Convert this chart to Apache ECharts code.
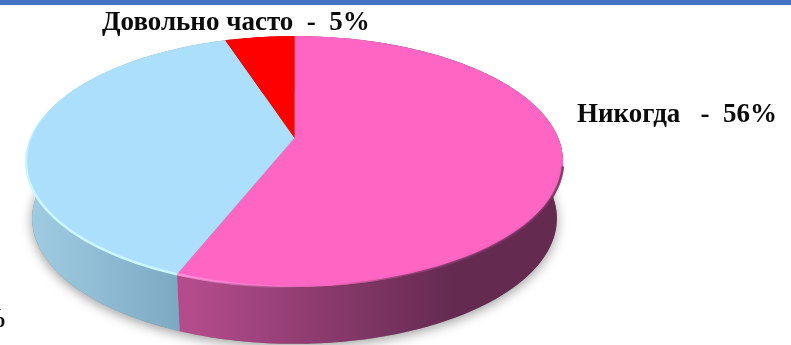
<!DOCTYPE html>
<html>
<head>
<meta charset="utf-8">
<style>html,body{margin:0;padding:0;background:#fff}#chart{width:791px;height:345px}</style>
<script src="https://cdn.jsdelivr.net/npm/echarts@6/dist/echarts.min.js"></script>
</head>
<body>
<div id="chart"></div>
<script>
// Answer shares, clockwise from twelve o'clock
const categories = ['Никогда', 'Иногда', 'Довольно часто'];
const shares = [56, 39, 5];
const labelSeparators = ['   -  ', '  -  ', '  -  '];

const topColors = ['#FF66C4', '#ABDFFC', '#FF0000'];
const wallColors = [
  ['#B44C8C', '#642A50', 188, 455],
  ['#A0CCE3', '#7AA6C0', 30, 190],
  ['#B00000', '#800000', 222, 294]
];
const labelPlaces = [
  { x: 577, y: 115, align: 'left' },
  { x: 7, y: 320, align: 'right' },
  { x: 102, y: 23, align: 'left' }
];

// Perspective disc: the hub sits above the ellipse centre because the far edge recedes
const disc = { cx: 294.5, hubY: 138, a: 263.8, b: 121, k: 0.187 };
const base = { scaleX: 0.977, scaleY: 1, midY: 161.5, drop: 57 };

function project(deg) {
  const t = deg * Math.PI / 180;
  const u = Math.sin(t), v = Math.cos(t), w = 1 + disc.k * v;
  return [disc.cx + disc.a * u / w, disc.hubY - disc.b * v / w];
}
function projectBase(deg) {
  const p = project(deg);
  return [
    disc.cx + (p[0] - disc.cx) * base.scaleX,
    base.midY + (p[1] - base.midY) * base.scaleY + base.drop
  ];
}
function arc(fn, from, to) {
  const pts = [];
  const n = Math.max(2, Math.ceil(Math.abs(to - from)));
  for (let i = 0; i <= n; i++) pts.push(fn(from + (to - from) * i / n));
  return pts;
}
function hGrad(x0, x1, stops) {
  return { type: 'linear', global: true, x: x0, y: 0, x2: x1, y2: 0, colorStops: stops };
}
function vGrad(y0, y1, stops) {
  return { type: 'linear', global: true, x: 0, y: y0, x2: 0, y2: y1, colorStops: stops };
}

const total = shares.reduce((s, v) => s + v, 0);
let running = 0;
const sliceRows = shares.map((v, i) => {
  const row = [running / total * 360, (running + v) / total * 360, i, v];
  running += v;
  return row;
});

const chart = echarts.init(document.getElementById('chart'), null, { renderer: 'canvas' });
chart.setOption({
  animation: false,
  backgroundColor: '#fff',
  graphic: [{
    type: 'rect',
    shape: { x: 0, y: 0, width: 791, height: 5 },
    style: { fill: '#4472C4' },
    z: 50
  }],
  series: [
    // soft shadow under the disc
    {
      type: 'custom', coordinateSystem: 'none', z: 1, silent: true,
      data: [[0]],
      renderItem: () => ({
        type: 'polygon',
        shape: { points: arc(projectBase, 0, 360) },
        style: { fill: '#8a8a8a', shadowBlur: 12, shadowColor: 'rgba(0,0,0,0.38)', shadowOffsetY: 3 }
      })
    },
    // side walls
    {
      type: 'custom', coordinateSystem: 'none', z: 2, silent: true,
      data: sliceRows,
      renderItem: (params, api) => {
        const i = api.value(2), from = api.value(0), to = api.value(1);
        const c = wallColors[i];
        return {
          type: 'polygon',
          shape: { points: arc(project, from, to).concat(arc(projectBase, to, from)) },
          style: { fill: hGrad(c[2], c[3], [{ offset: 0, color: c[0] }, { offset: 1, color: c[1] }]) }
        };
      }
    },
    // top faces
    {
      type: 'custom', coordinateSystem: 'none', z: 3, silent: true,
      data: sliceRows,
      renderItem: (params, api) => {
        const i = api.value(2), from = api.value(0), to = api.value(1);
        return {
          type: 'polygon',
          shape: { points: [[disc.cx, disc.hubY]].concat(arc(project, from, to)) },
          style: { fill: topColors[i] }
        };
      }
    },
    // bevelled rim along the near edge
    {
      type: 'custom', coordinateSystem: 'none', z: 4, silent: true,
      data: sliceRows.slice(0, 2),
      renderItem: (params, api) => {
        const i = api.value(2);
        if (i === 0) {
          return {
            type: 'group',
            children: [
              {
                type: 'polyline',
                shape: { points: arc(project, 103, 175) },
                style: {
                  fill: null, lineWidth: 2.5,
                  stroke: hGrad(330, 540, [
                    { offset: 0, color: 'rgba(120,50,95,0)' },
                    { offset: 0.35, color: 'rgba(120,50,95,0.7)' },
                    { offset: 1, color: 'rgba(110,45,88,0.8)' }
                  ]),
                  shadowBlur: 3, shadowColor: 'rgba(110,45,88,0.3)'
                }
              },
              {
                type: 'polyline',
                shape: { points: arc(project, 172, api.value(1)) },
                style: {
                  fill: null, lineWidth: 2.5,
                  stroke: hGrad(178, 300, [
                    { offset: 0, color: 'rgba(255,150,222,0.9)' },
                    { offset: 1, color: 'rgba(255,150,222,0)' }
                  ])
                }
              }
            ]
          };
        }
        return {
          type: 'polyline',
          shape: { points: arc(project, api.value(0), 295) },
          style: {
            fill: null, lineWidth: 2.5,
            stroke: vGrad(95, 175, [
              { offset: 0, color: 'rgba(203,247,255,0)' },
              { offset: 1, color: '#CBF7FF' }
            ])
          }
        };
      }
    },
    // category labels
    {
      type: 'custom', coordinateSystem: 'none', z: 5, silent: true,
      data: sliceRows,
      renderItem: (params, api) => {
        const i = api.value(2), place = labelPlaces[i];
        return {
          type: 'text',
          x: place.x, y: place.y,
          style: {
            text: categories[i] + labelSeparators[i] + api.value(3) + '%',
            fill: '#0b0b0b',
            font: 'bold 27px "Liberation Serif", serif',
            textAlign: place.align,
            textVerticalAlign: 'middle'
          }
        };
      }
    }
  ]
});
</script>
</body>
</html>
